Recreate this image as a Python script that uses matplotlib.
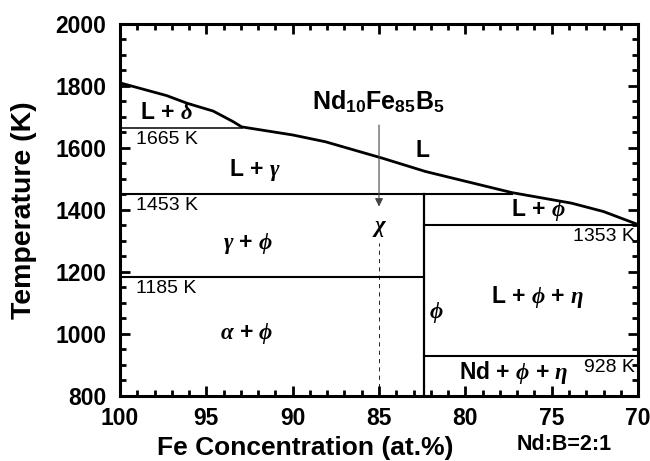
import numpy as np
import matplotlib
matplotlib.use("Agg")
import matplotlib.pyplot as plt
from matplotlib.ticker import MultipleLocator

plt.rcParams['font.family'] = ['Liberation Sans', 'DejaVu Sans']
plt.rcParams['mathtext.fontset'] = 'custom'
plt.rcParams['mathtext.rm'] = 'Liberation Sans:bold'
plt.rcParams['mathtext.bf'] = 'Liberation Sans:bold'
plt.rcParams['mathtext.it'] = 'Liberation Serif:italic:bold'

# liquidus curve (Fe at.%, K)
liq_fe = [100, 97.3, 96.1, 94.6, 93.45, 92.95, 90.0, 88.1, 84.8, 82.3, 77.3, 73.85, 72.0, 70]
liq_T = [1810, 1769, 1744, 1719, 1685, 1668, 1642, 1620, 1567, 1524, 1456, 1422, 1395, 1353]

# invariant lines: (T, x_start, x_end)
hlines = [(1665, 100, 92.95), (1453, 100, 77.3), (1353, 82.4, 70),
          (1185, 100, 82.4), (928, 82.4, 70)]
phi_x = 82.4          # phi compound line
alloy_x = 85          # Nd10Fe85B5

# temperature tags
t_tags = ["1665 K", "1453 K", "1185 K"]
t_tag_T = [1665, 1453, 1185]

fig = plt.figure(figsize=(6.5, 4.61), dpi=100)
ax = fig.add_axes([0.1846, 0.141, 0.797, 0.807])

ax.plot(liq_fe, liq_T, color='black', lw=2.0, solid_capstyle='butt')
for T, x0, x1 in hlines:
    ax.plot([x0, x1], [T, T], color='black', lw=1.5 if T != 1665 else 1.1)
ax.plot([phi_x, phi_x], [800, 1453], color='black', lw=1.6)
ax.plot([alloy_x, alloy_x], [800, 1293], color='black', lw=0.6, ls=(0, (5, 5)))
ax.annotate('', xy=(alloy_x, 1411), xytext=(alloy_x, 1674),
            arrowprops=dict(arrowstyle='-|>', color='#444444', lw=0.8,
                            mutation_scale=12, shrinkA=0, shrinkB=0))

for lab, T in zip(t_tags, t_tag_T):
    ax.text(99.05, T - 10, lab, fontsize=14, va='top', ha='left')
ax.text(70.2, 1353 - 10, "1353 K", fontsize=14, va='top', ha='right')
ax.text(70.2, 928 - 10, "928 K", fontsize=14, va='top', ha='right')

big = dict(fontsize=16.5, fontweight='bold', ha='center', va='center')
ax.text(85.05, 1750, r"Nd$_{10}$Fe$_{85}$B$_{5}$", fontsize=18, fontweight='bold',
        ha='center', va='center')
ax.text(97.3, 1713, r"L + $\delta$", **big)
ax.text(92.2, 1529, r"L + $\gamma$", **big)
ax.text(82.5, 1591, "L", **big)
ax.text(75.8, 1400, r"L + $\phi$", **big)
ax.text(84.95, 1345, r"$\chi$", **big)
ax.text(92.6, 1293, r"$\gamma$ + $\phi$", **big)
ax.text(92.65, 1003, r"$\alpha$ + $\phi$", **big)
ax.text(81.7, 1068, r"$\phi$", **big)
ax.text(75.8, 1119, r"L + $\phi$ + $\eta$", **big)
ax.text(77.2, 877, r"Nd + $\phi$ + $\eta$", **big)

ax.set_xlim(100, 70)
ax.set_ylim(800, 2000)
ax.xaxis.set_major_locator(MultipleLocator(5))
ax.xaxis.set_minor_locator(MultipleLocator(1))
ax.yaxis.set_major_locator(MultipleLocator(200))
ax.yaxis.set_minor_locator(MultipleLocator(50))
ax.tick_params(which='both', direction='in', top=True, right=True, width=2)
ax.tick_params(which='major', length=7, labelsize=16.5, pad=8)
ax.tick_params(which='minor', length=4)
ax.tick_params(axis='y', which='major', pad=10)
for lbl in ax.get_xticklabels() + ax.get_yticklabels():
    lbl.set_fontweight('bold')
for sp in ax.spines.values():
    sp.set_linewidth(2.2)

ax.set_xlabel("Fe Concentration (at.%)", fontsize=19, fontweight='bold')
ax.xaxis.set_label_coords(0.357, -0.108)
ax.set_ylabel("Temperature (K)", fontsize=20.5, fontweight='bold')
ax.yaxis.set_label_coords(-0.16, 0.5)
fig.text(0.868, 0.035, "Nd:B=2:1", fontsize=15.5, fontweight='bold', ha='center', va='center')

fig.savefig("out.png", dpi=100)
